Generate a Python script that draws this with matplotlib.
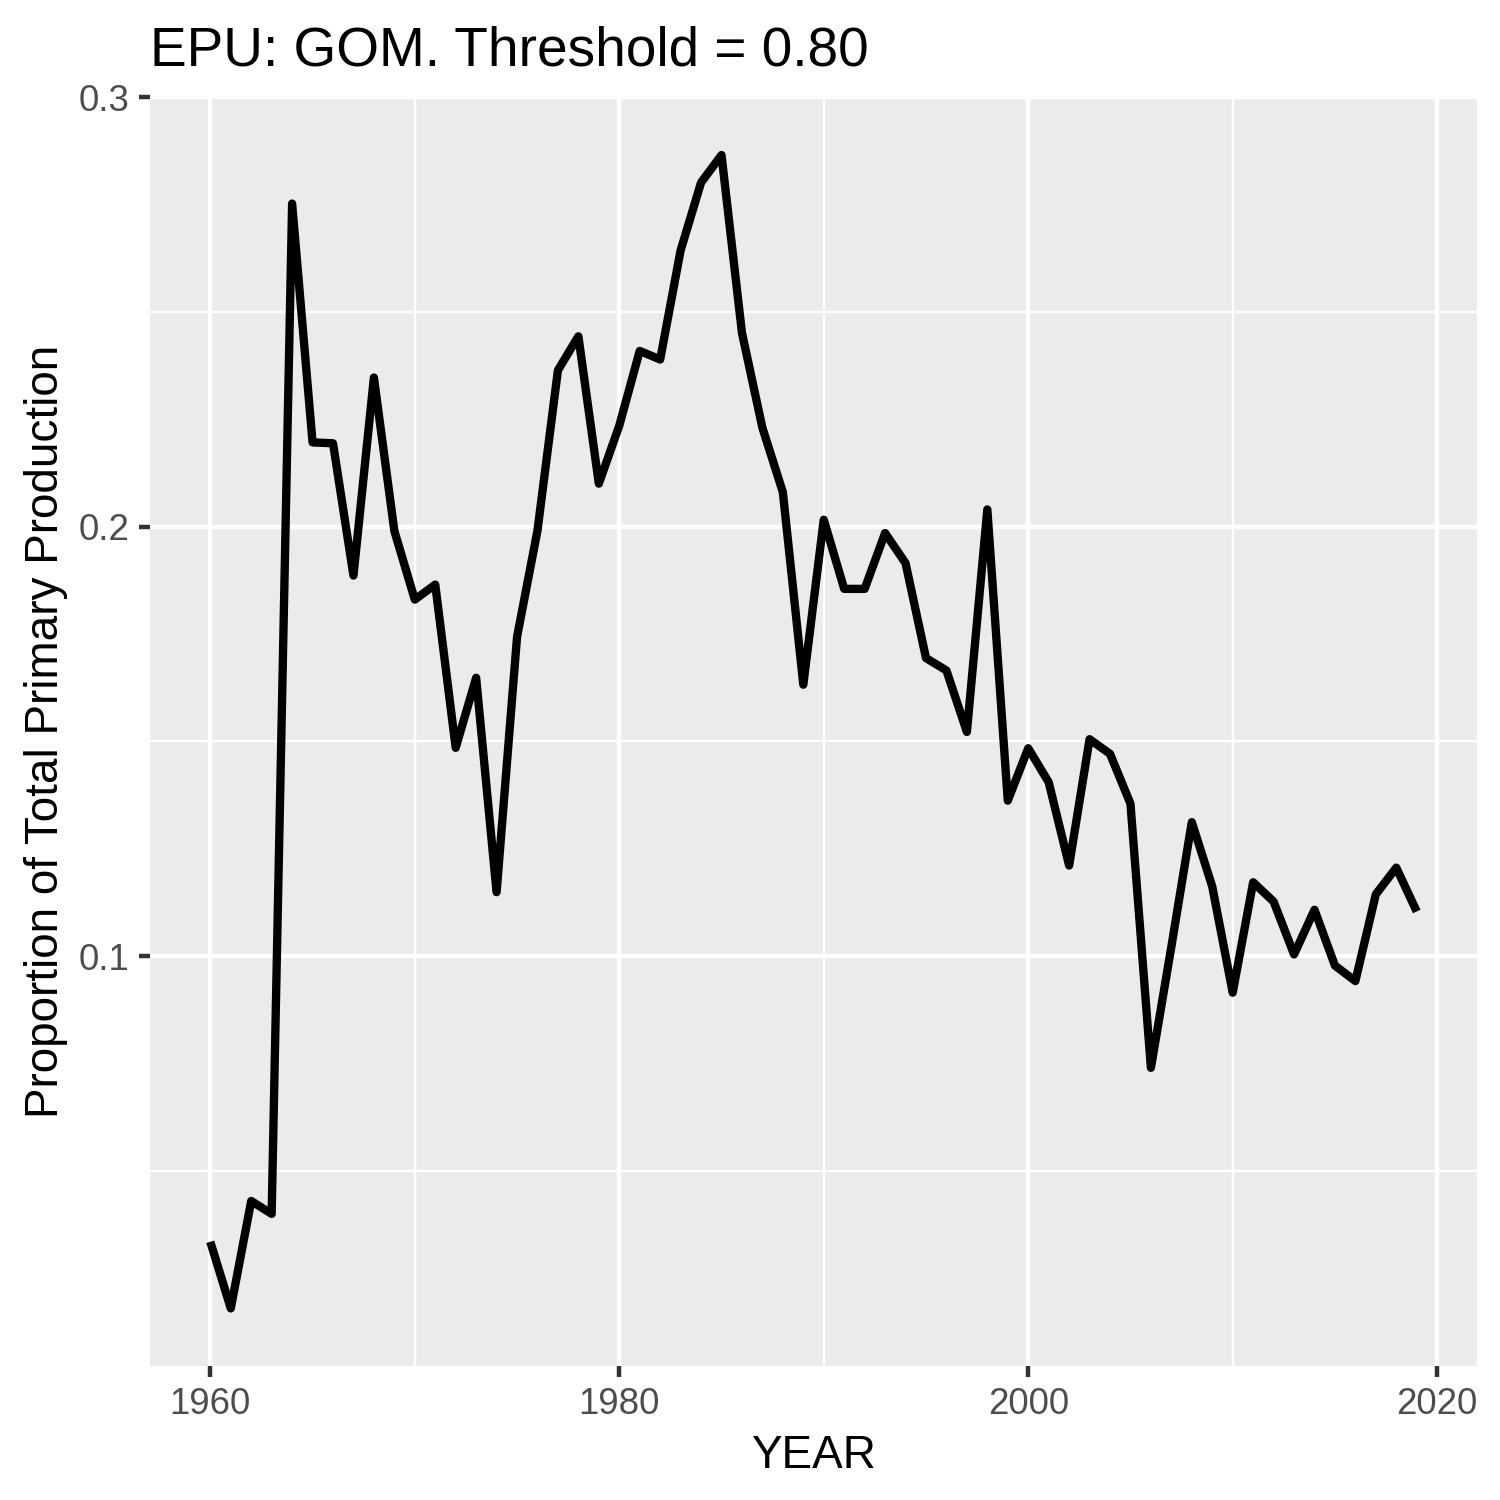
import numpy as np
import matplotlib
matplotlib.use("Agg")
import matplotlib.pyplot as plt
from matplotlib.ticker import MultipleLocator

plt.rcParams['font.family'] = ['Liberation Sans', 'DejaVu Sans']

#====================================================
# data
years = list(range(1960, 2020))
proportion = [0.0335, 0.0180, 0.0430, 0.0400, 0.2752, 0.2196, 0.2194, 0.1886, 0.2347, 0.1990,
              0.1830, 0.1865, 0.1485, 0.1648, 0.1149, 0.1743, 0.1991, 0.2364, 0.2443, 0.2100,
              0.2235, 0.2409, 0.2389, 0.2643, 0.2801, 0.2865, 0.2451, 0.2230, 0.2080, 0.1632,
              0.2016, 0.1855, 0.1855, 0.1985, 0.1915, 0.1694, 0.1665, 0.1522, 0.2040, 0.1362,
              0.1484, 0.1405, 0.1211, 0.1505, 0.1471, 0.1355, 0.0740, 0.1022, 0.1312, 0.1162,
              0.0915, 0.1172, 0.1127, 0.1004, 0.1108, 0.0978, 0.0942, 0.1144, 0.1206, 0.1104]
title = "EPU: GOM. Threshold = 0.80"

#====================================================
fig = plt.figure(figsize=(5, 5), dpi=300)
ax = fig.add_axes([0.1, 0.0893, 0.8847, 0.846])
ax.set_facecolor("#EBEBEB")

ax.plot(years, proportion, color="black", linewidth=2.0,
        solid_joinstyle="round", solid_capstyle="butt", zorder=3)

# ggplot style expansion of 5%
ymin, ymax = min(proportion), max(proportion)
yr = ymax - ymin
ax.set_ylim(ymin - 0.05 * yr, ymax + 0.05 * yr)
xr = years[-1] - years[0]
ax.set_xlim(years[0] - 0.05 * xr, years[-1] + 0.05 * xr)

ax.xaxis.set_major_locator(MultipleLocator(20))
ax.xaxis.set_minor_locator(MultipleLocator(10))
ax.yaxis.set_major_locator(MultipleLocator(0.1))
ax.yaxis.set_minor_locator(MultipleLocator(0.05))
ax.set_yticks([0.1, 0.2, 0.3])
ax.set_yticklabels(["0.1", "0.2", "0.3"])

ax.grid(which="major", color="white", linewidth=1.07)
ax.grid(which="minor", color="white", linewidth=0.53)
ax.set_axisbelow(True)
for s in ax.spines.values():
	s.set_visible(False)

ax.tick_params(which="major", length=2.75, width=1.07, color="#333333",
               labelsize=8.8, labelcolor="#4D4D4D", pad=2.2)
ax.tick_params(which="minor", length=0)

ax.set_xlabel("YEAR", fontsize=11, color="black", labelpad=3)
ax.set_ylabel("Proportion of Total Primary Production", fontsize=11, color="black", labelpad=2.6)
ax.set_title(title, loc="left", fontsize=13.2, color="black", pad=7.5)

plt.savefig("out.png", dpi=300)
